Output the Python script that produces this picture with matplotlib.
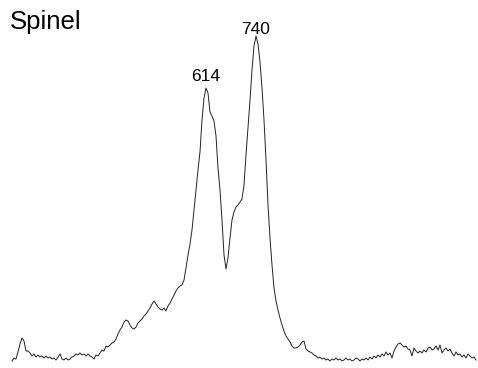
import numpy as np
import matplotlib
matplotlib.use("Agg")
import matplotlib.pyplot as plt

# Raman spectrum of spinel, sampled on a uniform Raman-shift grid (cm^-1)
SHIFT_START = 125.12
SHIFT_STEP = 5.04

intensity = [
    7, 10, 9, 16, 24, 30, 27, 17, 17, 15,
    12, 14, 11, 13, 11, 12, 10, 12, 10, 11,
    9, 10, 8, 11, 14, 9, 8, 10, 8, 9,
    11, 12, 14, 13, 15, 13, 14, 12, 14, 12,
    11, 9, 13, 12, 15, 18, 17, 22, 21, 23,
    25, 26, 29, 34, 38, 41, 46, 48, 47, 43,
    40, 39, 41, 45, 47, 49, 52, 54, 57, 60,
    64, 67, 64, 61, 59, 58, 60, 57, 62, 65,
    69, 73, 77, 80, 82, 83, 88, 100, 113, 124,
    138, 158, 178, 198, 216, 248, 270, 280, 275, 256,
    252, 247, 232, 200, 178, 148, 113, 99, 110, 130,
    148, 156, 161, 163, 166, 169, 183, 213, 240, 268,
    298, 322, 332, 324, 306, 280, 248, 208, 163, 130,
    103, 80, 67, 58, 50, 43, 37, 32, 29, 26,
    22, 20, 20, 21, 23, 26, 27, 19, 17, 16,
    15, 13, 12, 10, 11, 9, 10, 8, 9, 7,
    9, 8, 10, 8, 9, 7, 8, 10, 8, 9,
    7, 8, 10, 9, 7, 9, 8, 10, 8, 11,
    9, 12, 10, 13, 11, 14, 12, 16, 13, 15,
    10, 17, 21, 24, 25, 23, 21, 22, 19, 18,
    12, 20, 17, 15, 17, 15, 18, 16, 20, 21,
    18, 19, 22, 18, 23, 15, 18, 20, 17, 19,
    15, 12, 16, 13, 14, 11, 13, 10, 14, 12,
    10, 11, 8,
]

peak_labels = [614, 740]

shift = SHIFT_START + SHIFT_STEP * np.arange(len(intensity))
intensity = np.array(intensity, dtype=float)

plt.rcParams['font.family'] = ['Liberation Sans', 'DejaVu Sans']

fig = plt.figure(figsize=(4.78, 3.68), dpi=100)
ax = fig.add_axes([0, 0, 1, 1])
ax.plot(shift, intensity, color='#222222', lw=0.7)

# peak annotations
for pk, dy in zip(peak_labels, [7, 2]):
    i = np.argmin(np.abs(shift - pk))
    ax.text(pk, intensity[i] + dy, str(pk), ha='center', va='baseline',
            fontsize=12.5)

ax.set_xlim(94.88, 1299.44)
ax.set_ylim(0, 368)
ax.axis('off')

fig.text(10 / 478, 1 - 29 / 368, 'Spinel', fontsize=18.5, va='baseline',
         ha='left')

fig.savefig('out.png', dpi=100)
